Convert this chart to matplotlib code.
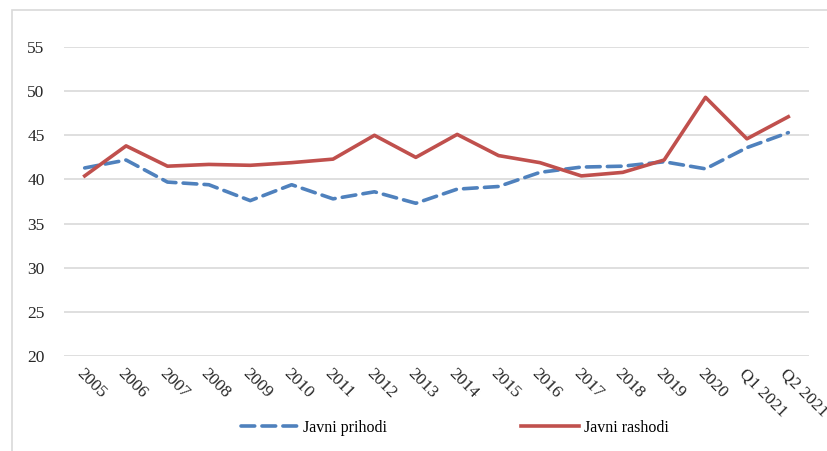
import matplotlib.pyplot as plt
from matplotlib.patches import Rectangle

labels = ['2005', '2006', '2007', '2008', '2009', '2010', '2011', '2012', '2013',
          '2014', '2015', '2016', '2017', '2018', '2019', '2020', 'Q1 2021', 'Q2 2021']
prihodi = [41.3, 42.2, 39.7, 39.4, 37.6, 39.4, 37.8, 38.6, 37.3,
           38.9, 39.2, 40.8, 41.4, 41.5, 42.0, 41.2, 43.6, 45.3]
rashodi = [40.4, 43.8, 41.5, 41.7, 41.6, 41.9, 42.3, 45.0, 42.5,
           45.1, 42.7, 41.9, 40.4, 40.8, 42.2, 49.3, 44.6, 47.1]
yticks = [20, 25, 30, 35, 40, 45, 50, 55]

plt.rcParams['font.family'] = ['Liberation Serif', 'DejaVu Serif']

fig = plt.figure(figsize=(8.28, 4.51), dpi=100)
fig.patches.append(Rectangle((12 / 828, -0.1), 1.0, 1 - 10 / 451 + 0.1,
                             transform=fig.transFigure, fill=False,
                             edgecolor='#d9d9d9', linewidth=1.2))

ax = fig.add_axes([64 / 828, 1 - 356 / 451, 745 / 828, 309 / 451])
x = list(range(len(labels)))
ax.plot(x, prihodi, color='#4f81bd', linewidth=2.6, linestyle=(0, (3.8, 2.0)),
        dash_capstyle='round', label='Javni prihodi')
ax.plot(x, rashodi, color='#c0504d', linewidth=2.6, label='Javni rashodi')

ax.set_xlim(-0.5, len(labels) - 0.5)
ax.set_ylim(20, 55)
ax.set_yticks(yticks)
ax.yaxis.grid(True, color='#d9d9d9', linewidth=1.2)
ax.set_axisbelow(True)
for s in ax.spines.values():
    s.set_visible(False)
ax.tick_params(length=0, labelsize=12.5, colors='#262626')
ax.tick_params(axis='y', pad=14)
ax.set_xticks(x)
ax.set_xticklabels(labels, rotation=-45, ha='left', va='top', rotation_mode='anchor')
ax.tick_params(axis='x', pad=7)

fig.legend(loc='center', bbox_to_anchor=(0.549, 0.051), ncol=2, frameon=False,
           fontsize=11.5, handlelength=3.6, columnspacing=8.4, handletextpad=0.3)

fig.savefig('out.png', dpi=100)
